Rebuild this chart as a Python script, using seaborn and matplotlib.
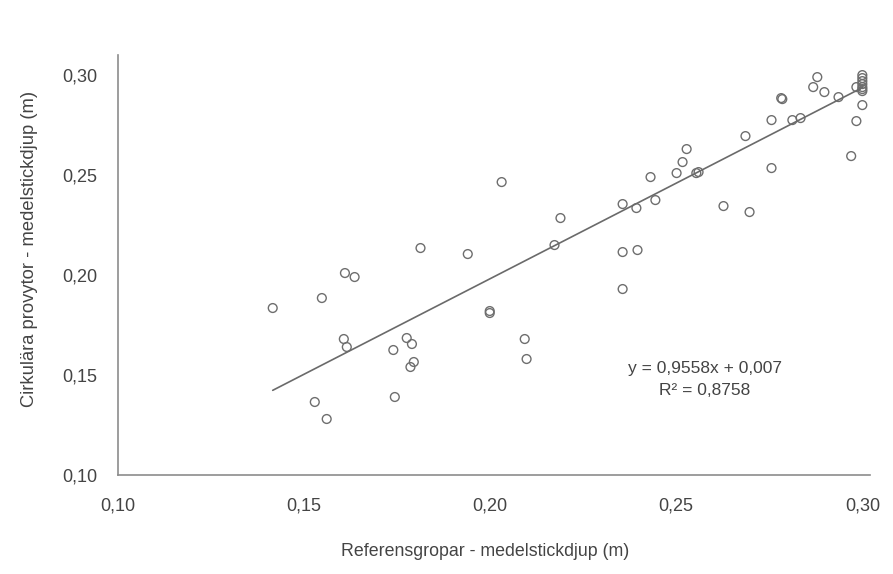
import numpy as np
import pandas as pd
import seaborn as sns
import matplotlib.pyplot as plt
from matplotlib.ticker import FuncFormatter

# Referensgropar (x) vs cirkulära provytor (y)
ref_depth = [0.1416, 0.1548, 0.1610, 0.1636, 0.1607, 0.1615, 0.1529, 0.1561,
             0.1744, 0.1740, 0.1776, 0.1790, 0.1795, 0.1786, 0.1813, 0.1940,
             0.1999, 0.1999, 0.2031, 0.2093, 0.2098, 0.2173, 0.2189,
             0.2356, 0.2393, 0.2444, 0.2356, 0.2396, 0.2356, 0.2431,
             0.2501, 0.2517, 0.2528, 0.2554, 0.2560, 0.2627, 0.2686, 0.2697,
             0.2756, 0.2756, 0.2782, 0.2785, 0.2812, 0.2834, 0.2868, 0.2879,
             0.2898, 0.2936, 0.2970, 0.2984, 0.2984, 0.3000, 0.3000, 0.3000,
             0.3000, 0.3000, 0.3000, 0.3000, 0.3000]
circ_depth = [0.1835, 0.1885, 0.2010, 0.1990, 0.1680, 0.1640, 0.1365, 0.1280,
              0.1390, 0.1625, 0.1685, 0.1655, 0.1565, 0.1540, 0.2135, 0.2105,
              0.1820, 0.1810, 0.2465, 0.1680, 0.1580, 0.2150, 0.2285,
              0.2355, 0.2335, 0.2375, 0.2115, 0.2125, 0.1930, 0.2490,
              0.2510, 0.2565, 0.2630, 0.2510, 0.2515, 0.2345, 0.2695, 0.2315,
              0.2775, 0.2535, 0.2885, 0.2880, 0.2775, 0.2785, 0.2940, 0.2990,
              0.2915, 0.2890, 0.2595, 0.2770, 0.2940, 0.3000, 0.2985, 0.2970,
              0.2955, 0.2940, 0.2930, 0.2920, 0.2850]

# trend line as given in the chart
slope = 0.9558
intercept = 0.007
r2 = 0.8758
line_x = [min(ref_depth), max(ref_depth)]

df = pd.DataFrame({'ref': ref_depth, 'circ': circ_depth})

sns.set_style("white")
plt.rcParams['font.family'] = ['Liberation Sans', 'DejaVu Sans']

fig = plt.figure(figsize=(8.93, 5.74), dpi=100)
ax = fig.add_axes([0.132, 0.1725, 0.842, 0.7315])

sns.scatterplot(data=df, x='ref', y='circ', ax=ax, marker='o', s=40,
                facecolors='none', edgecolor='#6e6e6e', linewidth=1.0)
lx = np.array(line_x)
sns.lineplot(x=lx, y=slope * lx + intercept, ax=ax, color='#6a6a6a', linewidth=1.2)

ax.set_xlim(0.10, 0.302)
ax.set_ylim(0.10, 0.31)
ax.set_xticks([0.10, 0.15, 0.20, 0.25, 0.30])
ax.set_yticks([0.10, 0.15, 0.20, 0.25, 0.30])
comma = FuncFormatter(lambda v, p: f"{v:.2f}".replace('.', ','))
ax.xaxis.set_major_formatter(comma)
ax.yaxis.set_major_formatter(comma)

for side in ['top', 'right']:
    ax.spines[side].set_visible(False)
for side in ['left', 'bottom']:
    ax.spines[side].set_color('#8c8c8c')
    ax.spines[side].set_linewidth(1.2)
ax.tick_params(axis='both', direction='out', length=5, width=1, color='#8c8c8c',
               labelsize=13, labelcolor='#444444')
ax.tick_params(axis='x', pad=11)
ax.tick_params(axis='y', pad=10)

ax.set_xlabel('Referensgropar - medelstickdjup (m)', fontsize=12.8, color='#444444')
ax.set_ylabel('Cirkulära provytor - medelstickdjup (m)', fontsize=13.2, color='#444444')
ax.xaxis.set_label_coords(0.489, -0.162)
ax.yaxis.set_label_coords(-0.106, 0.538)

ax.text(0.2576, 0.1535, f"y = {slope:.4f}x + {intercept:.3f}".replace('.', ','),
        fontsize=12.5, color='#444444', ha='center', va='center')
ax.text(0.2576, 0.1425, f"R² = {r2:.4f}".replace('.', ','),
        fontsize=12.5, color='#444444', ha='center', va='center')

fig.savefig('out.png', dpi=100)
